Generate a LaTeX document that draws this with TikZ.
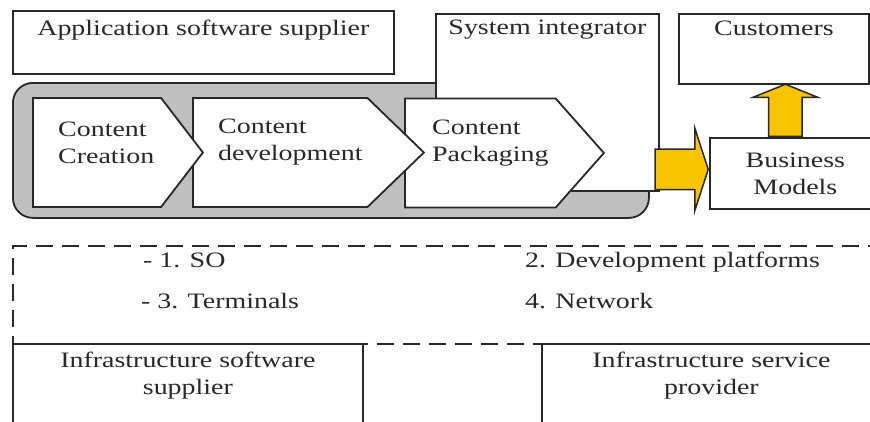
\documentclass[tikz,border=0pt]{standalone}
\usepackage{fontspec}
\setmainfont{Liberation Serif}[FakeStretch=1.27]
\usepackage{tikz}
\usetikzlibrary{shapes, shapes.symbols, shapes.arrows, positioning}
\definecolor{bandgray}{RGB}{192,192,192}
\definecolor{gold}{RGB}{248,196,0}
\definecolor{ink}{RGB}{40,40,40}
\tikzstyle{box} = [rectangle, draw=ink, line width=1.8pt, fill=white, inner sep=0pt, anchor=north west]
\tikzstyle{band} = [box, fill=bandgray, rounded corners=20pt]
\tikzstyle{dashbox} = [box, dash pattern=on 17pt off 9pt]
\tikzstyle{stage} = [signal, signal to=east, draw=ink, line width=1.8pt, fill=white, inner sep=0pt, minimum height=109pt, anchor=west]
\tikzstyle{fatarrow} = [single arrow, draw=ink, line width=1.5pt, fill=gold, inner xsep=0pt, single arrow head indent=0pt]
\tikzstyle{lbl} = [text=ink, inner sep=3pt, font=\fontsize{22}{27}\selectfont]

\begin{document}
\begin{tikzpicture}[x=1pt, y=-1pt]
\useasboundingbox (0,0) rectangle (870,421);
\clip (0,0) rectangle (870,421);

%==============================================
%Cadena de valor
%==============================================
\node (app) [box, minimum width=381pt, minimum height=63pt] at (12,10) {};
\node[lbl, below=7pt] at (app.north) {Application software supplier};

\node (band) [band, minimum width=636pt, minimum height=135pt] at (12,82) {};

\node (si) [box, minimum width=223pt, minimum height=177pt] at (435,13) {};
\node[lbl, below=4pt] at (si.north) {System integrator};

%Etapas==============================================
\node (cp) [stage, minimum width=199pt, signal pointer angle=97] at (404,153) {};
\node[lbl, align=left, anchor=west] at ([xshift=25pt, yshift=10pt]cp.west) {Content\\Packaging};

\node (cd) [stage, minimum width=231pt, signal pointer angle=88] at (192,152.5) {};
\node[lbl, align=left, anchor=west] at ([xshift=23pt, yshift=10pt]cd.west) {Content\\development};

\node (cc) [stage, minimum width=170pt, signal pointer angle=105] at (32,152.5) {};
\node[lbl, align=left, anchor=west] at ([xshift=23pt, yshift=10pt]cc.west) {Content\\Creation};

%Clientes============================================
\node (cu) [box, minimum width=190pt, minimum height=70pt] at (678,13) {};
\node[lbl, below=5pt] at (cu.north) {Customers};

\node (bm) [box, lbl, align=center, minimum width=171pt, minimum height=71pt] at (709,137) {Business\\Models};

\node (ar1) [fatarrow, anchor=tip, inner ysep=19.5pt, minimum height=53pt, single arrow head extend=20.5pt, single arrow tip angle=144] at ([yshift=4pt]bm.west) {};
\node (ar2) [fatarrow, rotate=90, anchor=tail, inner ysep=16pt, minimum height=52pt, single arrow head extend=16pt, single arrow tip angle=136] at ([xshift=-10pt]bm.north) {};

%Infraestructura=====================================
\node (db) [dashbox, minimum width=868pt, minimum height=98pt] at (12,245) {};
\node[lbl, anchor=base west] at (140,267) {- 1. SO};
\node[lbl, anchor=base west] at (138,308) {- 3. Terminals};
\node[lbl, anchor=base west] at (522,267) {2. Development platforms};
\node[lbl, anchor=base west] at (522,308) {4. Network};

\node (iss) [box, minimum width=350pt, minimum height=90pt] at (12,343) {};
\node[lbl, below=6pt, align=center] at (iss.north) {Infrastructure software\\supplier};

\node (isp) [box, minimum width=339pt, minimum height=90pt] at (541,343) {};
\node[lbl, below=6pt, align=center] at (isp.north) {Infrastructure service\\provider};
\end{tikzpicture}
\end{document}
